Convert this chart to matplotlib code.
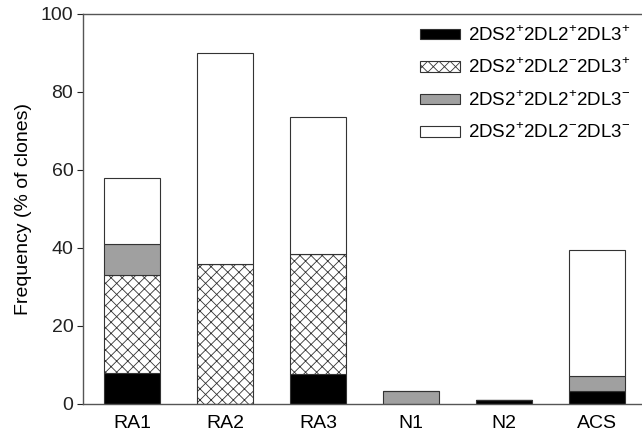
import numpy as np
import matplotlib
matplotlib.use("Agg")
import matplotlib.pyplot as plt

plt.rcParams['font.family'] = ['Liberation Sans', 'DejaVu Sans']
plt.rcParams['mathtext.fontset'] = 'custom'
plt.rcParams['mathtext.rm'] = 'Liberation Sans'
plt.rcParams['hatch.linewidth'] = 0.6
plt.rcParams['hatch.color'] = '#333333'

groups = ['RA1', 'RA2', 'RA3', 'N1', 'N2', 'ACS']
# stacked segments, bottom to top
pos_pos_pos = [8, 0, 7.7, 0, 1.0, 3.4]     # 2DS2+2DL2+2DL3+
pos_neg_pos = [25, 36, 30.7, 0, 0, 0]      # 2DS2+2DL2-2DL3+
pos_pos_neg = [8, 0, 0, 3.3, 0, 3.8]       # 2DS2+2DL2+2DL3-
pos_neg_neg = [17, 54, 35.2, 0, 0, 32.3]   # 2DS2+2DL2-2DL3-

labels = [r'2DS2$^{+}$2DL2$^{+}$2DL3$^{+}$',
          r'2DS2$^{+}$2DL2$^{-}$2DL3$^{+}$',
          r'2DS2$^{+}$2DL2$^{+}$2DL3$^{-}$',
          r'2DS2$^{+}$2DL2$^{-}$2DL3$^{-}$']

fig = plt.figure(figsize=(6.42, 4.36), dpi=100)
ax = fig.add_axes([0.1293, 0.0734, 0.8707, 0.8945])

x = np.arange(len(groups))
w = 0.6
ec = '#333333'
bottom = np.zeros(len(groups))
styles = [dict(color='black'), dict(color='white', hatch='xxx'),
          dict(color='#a0a0a0'), dict(color='white')]
series = [pos_pos_pos, pos_neg_pos, pos_pos_neg, pos_neg_neg]
for vals, st, lab in zip(series, styles, labels):
    vals = np.array(vals, dtype=float)
    ax.bar(x, vals, w, bottom=bottom, facecolor=st['color'], hatch=st.get('hatch'),
           edgecolor=ec, linewidth=0.8, label=lab)
    bottom += vals

ax.set_xlim(-0.53, 5.48)
ax.set_ylim(0, 100)
ax.set_yticks([0, 20, 40, 60, 80, 100])
ax.set_xticks(x)
ax.set_xticklabels(groups)
ax.tick_params(axis='x', length=0, pad=8, labelsize=14)
ax.tick_params(axis='y', length=4, width=0.8, direction='out', labelsize=14, pad=3,
               colors='#222222')
ax.set_ylabel('Frequency (% of clones)', fontsize=14, labelpad=6)
for s in ['left', 'bottom', 'top']:
    ax.spines[s].set_color('#555555')
    ax.spines[s].set_linewidth(1.0)
ax.spines['right'].set_visible(False)

ax.legend(loc='upper right', frameon=False, fontsize=13.5, handlelength=2.1,
          handleheight=0.5, labelspacing=0.7, handletextpad=0.45,
          bbox_to_anchor=(1.0, 1.0), borderaxespad=0.2)

plt.savefig('out.png', dpi=100)
